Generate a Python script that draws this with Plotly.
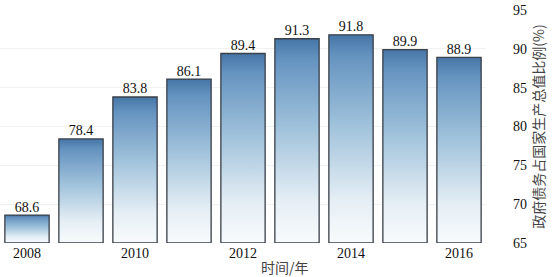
import plotly.graph_objects as go

years = ["2008", "2009", "2010", "2011", "2012", "2013", "2014", "2015", "2016"]
values = [68.6, 78.4, 83.8, 86.1, 89.4, 91.3, 91.8, 89.9, 88.9]
tick_years = ["2008", "2010", "2012", "2014", "2016"]
y_ticks = [65, 70, 75, 80, 85, 90, 95]

BASE = 65
HALF = 0.41
serif = "Liberation Serif, Times New Roman, serif"
cjk = "Noto Sans CJK SC, sans-serif"

fig = go.Figure()
for i, v in enumerate(values):
    fig.add_trace(go.Scatter(
        x=[i - HALF, i + HALF, i + HALF, i - HALF, i - HALF],
        y=[BASE, BASE, v, v, BASE],
        mode="lines",
        fill="toself",
        fillgradient=dict(type="vertical",
                          colorscale=[[0, "#f8fbfd"], [0.2, "#e6eff5"], [0.58, "#9dc0da"],
                                      [0.9, "#6593c0"], [1, "#4676a6"]]),
        line=dict(color="#3a3f48", width=1.3),
        hoverinfo="skip",
        showlegend=False,
    ))

fig.add_trace(go.Scatter(
    x=list(range(len(values))),
    y=values,
    mode="text",
    text=[f"{v:.1f}" for v in values],
    textposition="top center",
    textfont=dict(family=serif, size=14, color="#111"),
    showlegend=False,
    hoverinfo="skip",
))

fig.update_layout(
    width=557, height=277,
    margin=dict(l=0, r=71, t=10, b=34),
    paper_bgcolor="white", plot_bgcolor="white",
    xaxis=dict(
        range=[-0.5, len(values) - 0.5],
        tickvals=[years.index(y) for y in tick_years],
        ticktext=tick_years,
        tickfont=dict(family=serif, size=14, color="#111"),
        showgrid=False, zeroline=False, showline=False,
        ticks="", fixedrange=True,
    ),
    yaxis=dict(
        range=[BASE, 95],
        side="right",
        tickvals=y_ticks,
        tickfont=dict(family=serif, size=14, color="#111"),
        showgrid=True, gridcolor="#f1f1f1", gridwidth=1,
        zeroline=False, showline=False,
        ticks="", ticklabelstandoff=26,
        title=dict(text="政府债务占国家生产总值比例(%)",
                   font=dict(family=cjk, size=14, color="#444"),
                   standoff=8),
    ),
    annotations=[dict(
        text="时间/年", x=285 / 486, y=-(267 - 243) / 233, xref="paper", yref="paper",
        xanchor="center", yanchor="middle",
        showarrow=False, font=dict(family=cjk, size=14, color="#444"),
    )],
)

fig.write_html("out.html", config={"displayModeBar": False},
               post_script="document.body.style.margin='0';")
